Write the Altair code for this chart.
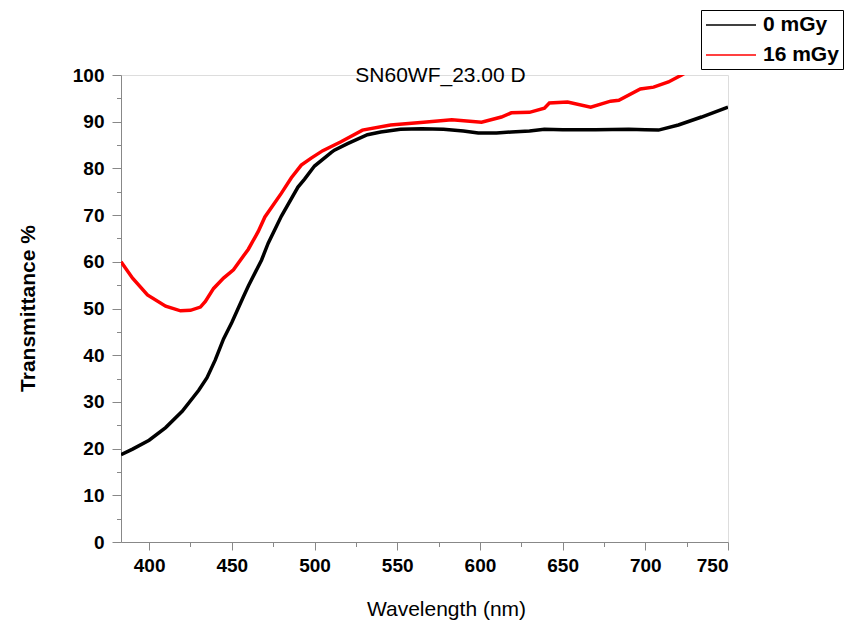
import altair as alt
import pandas as pd

# Black curve: 0 mGy
wl_0 = [383, 390, 400, 410, 420, 430, 435, 440, 445, 450, 457, 460, 468, 472, 480, 490, 494,
        500, 510, 512, 520, 532, 540, 552, 565, 578, 590, 599, 610, 619, 630, 639, 650, 670,
        690, 700, 708, 720, 734, 750]
t_0 = [18.7, 19.9, 21.8, 24.5, 28.0, 32.5, 35.2, 39.0, 43.5, 47.0, 52.5, 54.8, 60.4, 64.0,
       69.8, 76.0, 77.7, 80.5, 83.4, 83.9, 85.3, 87.2, 87.8, 88.4, 88.5, 88.4, 88.0, 87.6,
       87.6, 87.8, 88.0, 88.4, 88.3, 88.3, 88.4, 88.3, 88.2, 89.3, 91.0, 93.1]

# Red curve: 16 mGy
wl_16 = [383, 390, 399, 410, 419, 425, 431, 434, 439, 445, 451, 460, 466, 470, 480, 486, 492,
         498, 505, 516, 529, 546, 566, 583, 601, 613, 619, 630, 639, 642, 653, 667, 679, 684,
         697, 705, 714, 722, 730, 750]
t_16 = [60.0, 56.5, 52.9, 50.5, 49.5, 49.6, 50.3, 51.5, 54.3, 56.5, 58.3, 62.7, 66.5, 69.6,
        74.7, 78.0, 80.7, 82.2, 83.8, 85.7, 88.2, 89.3, 89.9, 90.4, 89.9, 91.0, 91.9, 92.0,
        92.9, 94.0, 94.2, 93.1, 94.4, 94.6, 97.0, 97.4, 98.5, 100.0, 101.7, 106.0]

series_names = ["0 mGy", "16 mGy"]
series_colors = ["#000000", "#ff0000"]
x_ticks = list(range(400, 751, 25))
y_ticks = list(range(0, 101, 5))

df = pd.concat([
    pd.DataFrame({"wl": wl_0, "t": t_0, "s": series_names[0], "o": range(len(wl_0))}),
    pd.DataFrame({"wl": wl_16, "t": t_16, "s": series_names[1], "o": range(len(wl_16))}),
])

FONT = "Liberation Sans"

chart = alt.Chart(df).mark_line(strokeWidth=3.5, clip=True).encode(
    x=alt.X("wl:Q", scale=alt.Scale(domain=[383, 750], nice=False, zero=False),
            axis=alt.Axis(values=x_ticks, title="Wavelength (nm)", grid=False,
                          labelExpr="datum.value % 50 === 0 ? datum.label : ''",
                          tickSize={"condition": {"test": "datum.value % 50 === 0", "value": 8}, "value": 4.5},
                          labelPadding=6, labelFontSize=19, labelFontWeight="bold",
                          titleFontSize=21, titleFontWeight="normal",
                          titleX=325, titleY=67, titleBaseline="middle", titleAlign="center")),
    y=alt.Y("t:Q", scale=alt.Scale(domain=[0, 100], nice=False),
            axis=alt.Axis(values=y_ticks, title="Transmittance %", grid=False,
                          labelExpr="datum.value % 10 === 0 ? datum.label : ''",
                          tickSize={"condition": {"test": "datum.value % 10 === 0", "value": 9}, "value": 4.5},
                          labelPadding=8, labelFontSize=19, labelFontWeight="bold",
                          titleFontSize=21, titleFontWeight="bold",
                          titleAngle=270, titleX=-93, titleY=233, titleBaseline="middle",
                          titleAlign="center")),
    stroke=alt.Stroke("s:N", scale=alt.Scale(domain=series_names, range=series_colors),
                      legend=alt.Legend(title=None, orient="none", legendX=580, legendY=-65,
                                        strokeColor="black", padding=4,
                                        symbolType="M-1,0L4,0", symbolSize=400,
                                        symbolStrokeWidth=1.5, labelOffset=36, rowPadding=9,
                                        labelFontSize=21, labelFontWeight="bold",
                                        labelFont=FONT, labelColor="black")),
    order="o:Q",
).properties(
    width=607, height=467,
    title=alt.TitleParams("SN60WF_23.00 D", fontSize=21, fontWeight="normal", font=FONT,
                          color="black", anchor="middle", dx=16, dy=76, offset=0),
    autosize=alt.AutoSizeParams(type="none"),
    padding={"left": 113, "top": 67, "right": 118, "bottom": 78},
).configure_view(stroke=None).configure_axis(
    domainColor="black", domainWidth=1.5, tickColor="black", tickWidth=1.5,
    labelColor="black", titleColor="black", labelFont=FONT, titleFont=FONT,
).configure(background="white")

chart.save("out.html", embed_options={"renderer": "svg", "actions": False})
